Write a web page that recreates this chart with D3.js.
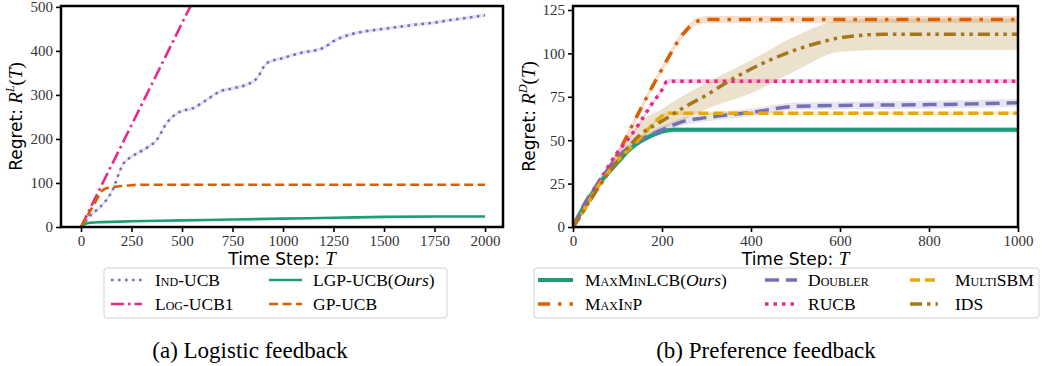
<!DOCTYPE html>
<html><head><meta charset="utf-8">
<script src="https://cdn.jsdelivr.net/npm/d3@7"></script>
<style>
body{margin:0;background:#fff;}
svg{display:block;}
</style></head>
<body><svg id="c" width="1042" height="366"></svg>
<script>
// ---------- Data: (a) Logistic feedback ----------
const leftXTicks = [0,250,500,750,1000,1250,1500,1750,2000];
const leftYTicks = [0,100,200,300,400,500];
const indUCB = [[0,0],[50,28],[94,45],[152,80],[210,144],[251,160],[292,171],[333,182],[375,198],[424,236],[490,262],[556,270],[622,289],[688,308],[754,315],[838,327],[871,338],[919,372],[1002,384],[1084,395],[1200,407],[1249,422],[1332,437],[1414,445],[1497,450],[1580,455],[1662,460],[1744,464],[1830,470],[1909,475],[2000,481]];
const logUCB1 = [[0,0],[100,93],[200,185],[300,278],[400,370],[500,463],[560,518]];
const lgpUCB = [[0,0],[25,8],[50,10],[100,11],[250,13],[500,15],[750,17],[1000,19],[1250,21],[1500,23],[1750,24],[2000,24]];
const gpUCB = [[0,0],[25,20],[50,40],[75,60],[100,80],[125,88],[150,90],[200,93],[250,95],[300,96],[2000,96]];
const indUCBSpread = 4, lgpUCBSpread = 1.5;

// ---------- Data: (b) Preference feedback ----------
const rightXTicks = [0,200,400,600,800,1000];
const rightYTicks = [0,25,50,75,100,125];
const maxMinLCB = [[0,0],[25,12],[50,22],[75,30],[100,37],[125,44],[150,49],[175,52.5],[200,55],[225,56],[1000,56]];
const maxInP = [[0,0],[50,20],[100,42],[150,67],[200,91],[250,112],[275,118],[300,119.5],[1000,119.5]];
const doubler = [[0,0],[25,13],[50,23],[75,32],[100,40],[150,50],[200,56],[250,61],[300,63],[400,66],[500,69.5],[600,70],[800,70.5],[1000,71.5]];
const rucb = [[0,0],[25,10],[50,22],[75,33],[100,43],[125,51],[150,60],[175,70],[200,79],[212,84],[1000,84]];
const multiSBM = [[0,0],[25,10],[50,21],[100,38],[150,51],[175,58],[200,64],[215,65.5],[1000,65.5]];
const ids = [[0,0],[25,10],[50,20],[100,38],[150,53],[200,61],[250,69],[300,76],[350,84],[400,91],[450,97],[500,102],[550,106],[600,109],[650,110.5],[700,111],[1000,111]];
const idsBand = [[0,0,0],[100,36,41],[150,50,60],[200,56,68],[250,62,76],[300,68,83],[400,77,96],[500,90,110],[600,101,119],[700,102,120],[1000,102,120]];
const maxMinLCBSpread = 1.5, maxInPSpread = 2, doublerSpread = 2.2, rucbSpread = 1.2, multiSBMSpread = 1;

const C = {green:"#1b9e77", orange:"#d95f02", purple:"#7570b3", pink:"#e7298a", yellow:"#e6ab02", brown:"#a6761d"};
const SERIF = "'Liberation Serif', 'DejaVu Serif'";
const SANS = "'DejaVu Sans', sans-serif";

const svg = d3.select("#c");

function panel(opts){
  const g = svg.append("g");
  const x = d3.scaleLinear().domain(opts.xDomain).range([opts.left, opts.right]);
  const y = d3.scaleLinear().domain(opts.yDomain).range([opts.bottom, opts.top]);
  const clipId = "clip"+opts.id;
  svg.append("clipPath").attr("id",clipId).append("rect")
    .attr("x",opts.left).attr("y",opts.top).attr("width",opts.right-opts.left).attr("height",opts.bottom-opts.top);
  const plot = g.append("g").attr("clip-path",`url(#${clipId})`);
  opts.bands.forEach(b=>{
    const area = d3.area().curve(d3.curveMonotoneX).x(d=>x(d[0])).y0(d=>y(d[1])).y1(d=>y(d[2]));
    plot.append("path").attr("d",area(b.data)).attr("fill",b.color).attr("opacity",b.opacity);
  });
  opts.series.forEach(s=>{
    const line = d3.line().curve(d3.curveMonotoneX).x(d=>x(d[0])).y(d=>y(d[1]));
    plot.append("path").attr("d",line(s.data)).attr("fill","none").attr("stroke",s.color)
      .attr("stroke-width",s.width).attr("stroke-dasharray",s.dash||null).attr("stroke-linecap","butt");
  });
  const xa = g.append("g").attr("transform",`translate(0,${opts.bottom})`)
    .call(d3.axisBottom(x).tickValues(opts.xTicks).tickSize(5).tickPadding(3).tickFormat(d3.format("d")));
  const ya = g.append("g").attr("transform",`translate(${opts.left},0)`)
    .call(d3.axisLeft(y).tickValues(opts.yTicks).tickSize(5).tickPadding(3).tickFormat(d3.format("d")));
  [xa,ya].forEach(a=>{
    a.attr("font-family",SERIF).attr("font-size",15);
    a.select(".domain").remove();
    a.selectAll("line").attr("stroke","#000").attr("stroke-width",1.6);
    a.selectAll("text").attr("fill","#333").style("font-family",SERIF).style("font-size","15px");
  });
  g.append("rect").attr("x",opts.left).attr("y",opts.top).attr("width",opts.right-opts.left).attr("height",opts.bottom-opts.top)
    .attr("fill","none").attr("stroke","#000").attr("stroke-width",2.5);
  const xl = g.append("text").attr("x",(opts.left+opts.right)/2).attr("y",opts.bottom+38).attr("text-anchor","middle")
    .attr("font-size",17);
  xl.append("tspan").attr("font-family",SANS).text("Time Step: ");
  xl.append("tspan").style("font-family",SERIF).attr("font-style","italic").attr("font-size",19).text("T");
  const yl = g.append("text").attr("transform",`translate(${opts.ylabX},${(opts.top+opts.bottom)/2}) rotate(-90)`)
    .attr("text-anchor","middle").attr("font-size",17);
  yl.append("tspan").attr("font-family",SANS).text("Regret: ");
  yl.append("tspan").style("font-family",SERIF).attr("font-style","italic").attr("font-size",19).text("R");
  yl.append("tspan").style("font-family",SERIF).attr("font-style","italic").attr("font-size",12).attr("dy",-8).text(opts.sup);
  yl.append("tspan").style("font-family",SERIF).attr("font-size",19).attr("dy",8).text("(");
  yl.append("tspan").style("font-family",SERIF).attr("font-style","italic").attr("font-size",19).text("T");
  yl.append("tspan").style("font-family",SERIF).attr("font-size",19).text(")");
  const L = opts.legend;
  g.append("rect").attr("x",L.x).attr("y",L.y).attr("width",L.w).attr("height",L.h).attr("rx",3)
    .attr("fill","#fff").attr("stroke","#d0d0d0").attr("stroke-width",1);
  L.items.forEach(it=>{
    g.append("line").attr("x1",it.lx).attr("x2",it.lx+it.lw).attr("y1",it.y).attr("y2",it.y)
      .attr("stroke",it.color).attr("stroke-width",it.width).attr("stroke-dasharray",it.dash||null);
    const t = g.append("text").attr("x",it.tx).attr("y",it.y+6).style("font-family",SERIF).style("font-size","17.5px");
    it.parts.forEach(p=>{
      const ts = t.append("tspan").text(p.t).style("font-family",SERIF);
      if(p.sc) ts.style("font-variant","small-caps");
      if(p.it) ts.style("font-style","italic");
    });
  });
  return {x,y};
}

function spreadBand(data, s){ return data.map(d=>[d[0], Math.max(0,d[1]-s), d[1]+s]); }

panel({
  id:"L", left:61, right:503, top:6, bottom:227,
  xDomain:[-99,2089], yDomain:[0,502], xTicks:leftXTicks, yTicks:leftYTicks, ylabX:22, sup:"L",
  bands:[
    {data:spreadBand(indUCB,indUCBSpread), color:C.purple, opacity:0.2},
    {data:spreadBand(lgpUCB,lgpUCBSpread), color:C.green, opacity:0.25}
  ],
  series:[
    {data:indUCB, color:C.purple, width:2.6, dash:"2.6,4.4"},
    {data:logUCB1, color:C.pink, width:2.6, dash:"13,4,2.6,4"},
    {data:lgpUCB, color:C.green, width:2.6},
    {data:gpUCB, color:C.orange, width:2.6, dash:"9,4.5"}
  ],
  legend:{x:104,y:268,w:343,h:50, items:[
    {lx:111,lw:31,y:280,color:C.purple,width:2.6,dash:"2.6,4.4",tx:155,parts:[{t:"Ind-UCB",sc:true}]},
    {lx:111,lw:31,y:304,color:C.pink,width:2.6,dash:"13,4,2.6,4",tx:155,parts:[{t:"Log-UCB1",sc:true}]},
    {lx:269,lw:33,y:280,color:C.green,width:2.6,tx:313,parts:[{t:"LGP-UCB("},{t:"Ours",it:true},{t:")"}]},
    {lx:269,lw:33,y:304,color:C.orange,width:2.6,dash:"9,4.5",tx:313,parts:[{t:"GP-UCB"}]}
  ]}
});

panel({
  id:"R", left:573, right:1018, top:6, bottom:227,
  xDomain:[0,1000], yDomain:[0,127.3], xTicks:rightXTicks, yTicks:rightYTicks, ylabX:535, sup:"D",
  bands:[
    {data:spreadBand(maxMinLCB,maxMinLCBSpread), color:C.green, opacity:0.2},
    {data:spreadBand(maxInP,maxInPSpread), color:C.orange, opacity:0.2},
    {data:spreadBand(doubler,doublerSpread), color:C.purple, opacity:0.18},
    {data:spreadBand(rucb,rucbSpread), color:C.pink, opacity:0.2},
    {data:spreadBand(multiSBM,multiSBMSpread), color:C.yellow, opacity:0.2},
    {data:idsBand, color:C.brown, opacity:0.22}
  ],
  series:[
    {data:maxMinLCB, color:C.green, width:4},
    {data:maxInP, color:C.orange, width:3.5, dash:"12,8,3.5,8"},
    {data:doubler, color:C.purple, width:3.5, dash:"14,7"},
    {data:rucb, color:C.pink, width:3.5, dash:"3.5,5"},
    {data:multiSBM, color:C.yellow, width:3.5, dash:"10,5"},
    {data:ids, color:C.brown, width:3.5, dash:"12,5,3.5,5,3.5,5"}
  ],
  legend:{x:534,y:268,w:505,h:50, items:[
    {lx:538,lw:35,y:280,color:C.green,width:4,tx:585,parts:[{t:"MaxMinLCB(",sc:true},{t:"Ours",it:true},{t:")"}]},
    {lx:538,lw:35,y:304,color:C.orange,width:3.5,dash:"12,8,3.5,8",tx:585,parts:[{t:"MaxInP",sc:true}]},
    {lx:765,lw:32,y:280,color:C.purple,width:3.5,dash:"14,7",tx:808,parts:[{t:"Doubler",sc:true}]},
    {lx:765,lw:32,y:304,color:C.pink,width:3.5,dash:"3.5,5",tx:808,parts:[{t:"RUCB"}]},
    {lx:910,lw:28,y:280,color:C.yellow,width:3.5,dash:"10,5",tx:955,parts:[{t:"MultiSBM",sc:true}]},
    {lx:910,lw:28,y:304,color:C.brown,width:3.5,dash:"12,5,3.5,5,3.5,5",tx:955,parts:[{t:"IDS"}]}
  ]}
});

const capA = "(a) Logistic feedback", capB = "(b) Preference feedback";
svg.append("text").attr("x",250).attr("y",358).attr("text-anchor","middle").style("font-family",SERIF).style("font-size","23px").text(capA);
svg.append("text").attr("x",766).attr("y",358).attr("text-anchor","middle").style("font-family",SERIF).style("font-size","23px").text(capB);
</script></body></html>
